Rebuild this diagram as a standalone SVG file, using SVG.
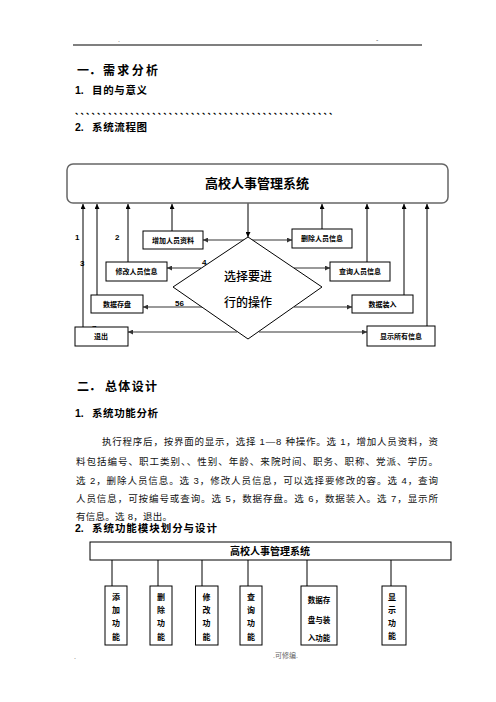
<svg xmlns="http://www.w3.org/2000/svg" width="496" height="702" viewBox="0 0 496 702">
<style>
text{font-family:"Liberation Sans","Noto Sans CJK SC",sans-serif;fill:#000}
.h1{font-size:12px;font-weight:bold}
.h2{font-size:10.5px;font-weight:bold}
.p{font-size:9.5px;fill:#111}
.lbl{font-size:7px;font-weight:bold;text-anchor:middle}
.num{font-size:8px;font-weight:bold}
.box{fill:#fff;stroke:#000;stroke-width:1}
.vl{stroke:#000;stroke-width:1;fill:none}
.hl{stroke:#777;stroke-width:1.6;fill:none}
.mod{font-size:8px;font-weight:bold;text-anchor:middle}
.small{font-size:7px;fill:#666}
</style>
<defs>
<marker id="ah" viewBox="0 0 6 6" refX="6" refY="3" markerWidth="5" markerHeight="5" markerUnits="userSpaceOnUse" orient="auto">
<path d="M0,0 L6,3 L0,6 Z" fill="#000"/>
</marker>
<marker id="ahg" viewBox="0 0 6 6" refX="6" refY="3" markerWidth="5" markerHeight="5" markerUnits="userSpaceOnUse" orient="auto">
<path d="M0,0 L6,3 L0,6 Z" fill="#333"/>
</marker>
</defs>
<rect width="496" height="702" fill="#fff"/>

<!-- page header -->
<text x="118" y="42" class="small">.</text>
<text x="376" y="42" class="small">-</text>
<line x1="73" y1="45" x2="422" y2="45" stroke="#000" stroke-width="1.2"/>

<text x="77" y="75" class="h1">一．</text>
<text x="103" y="75" class="h1" textLength="55" lengthAdjust="spacing">需求分析</text>
<text x="75" y="94" class="h2">1.</text>
<text x="92" y="94" class="h2" textLength="55" lengthAdjust="spacing">目的与意义</text>
<text x="75" y="114" style="font-size:8px;font-weight:bold;fill:#000" textLength="262" lengthAdjust="spacing">、、、、、、、、、、、、、、、、、、、、、、、、、、、、、、、、、、、、、、、、、、、、、、、</text>
<text x="75" y="131" class="h2">2.</text>
<text x="92" y="131" class="h2" textLength="55" lengthAdjust="spacing">系统流程图</text>

<!-- flowchart -->
<g id="connectors">
<line class="vl" x1="83" y1="327" x2="83" y2="204" marker-end="url(#ah)"/>
<line class="vl" x1="97" y1="295" x2="97" y2="204" marker-end="url(#ah)"/>
<line class="vl" x1="128" y1="262" x2="128" y2="204" marker-end="url(#ah)"/>
<line class="vl" x1="172" y1="231" x2="172" y2="204" marker-end="url(#ah)"/>
<line class="vl" x1="248" y1="203" x2="248" y2="237" marker-end="url(#ah)"/>
<line class="vl" x1="322" y1="229" x2="322" y2="204" marker-end="url(#ah)"/>
<line class="vl" x1="367" y1="262" x2="367" y2="204" marker-end="url(#ah)"/>
<line class="vl" x1="404" y1="295" x2="404" y2="204" stroke="#666" marker-end="url(#ah)"/>
<line class="vl" x1="427" y1="326" x2="427" y2="204" marker-end="url(#ah)"/>
<line class="hl" x1="244" y1="240" x2="203" y2="240" marker-end="url(#ahg)"/>
<line class="hl" x1="252" y1="240" x2="292" y2="240" marker-end="url(#ahg)"/>
<line class="hl" x1="201" y1="268" x2="167" y2="268" marker-end="url(#ahg)"/>
<line class="hl" x1="294" y1="268" x2="330" y2="268" marker-end="url(#ahg)"/>
<line class="hl" x1="202" y1="307" x2="143" y2="307" marker-end="url(#ahg)"/>
<line class="hl" x1="294" y1="307" x2="352" y2="307" marker-end="url(#ahg)"/>
<line class="hl" x1="237" y1="332" x2="128" y2="332" marker-end="url(#ahg)"/>
<line class="hl" x1="259" y1="332" x2="367" y2="332" marker-end="url(#ahg)"/>
</g>

<g id="labels">
<text x="75" y="240" class="num">1</text>
<text x="115" y="240" class="num">2</text>
<text x="80" y="266" class="num">3</text>
<text x="202" y="265" class="num">4</text>
<text x="175" y="306" class="num">56</text>
<text x="92" y="331" class="num">7</text>
</g>

<g id="main">
<rect x="67" y="164" width="381" height="39" rx="6" fill="#fff" stroke="#666" stroke-width="1.5"/>
<text x="257" y="188" style="font-size:13px;font-weight:bold;text-anchor:middle">高校人事管理系统</text>
</g>

<g id="decision">
<polygon points="248,237 173,287 248,339 322,287" fill="#fff" stroke="#000" stroke-width="1"/>
<text x="248" y="281" style="font-size:12px;font-weight:500;text-anchor:middle">选择要进</text>
<text x="248" y="307" style="font-size:12px;font-weight:500;text-anchor:middle">行的操作</text>
</g>

<g id="n-add"><rect class="box" x="143" y="231" width="60" height="18"/><text class="lbl" x="173" y="242.5">增加人员资料</text></g>
<g id="n-modify"><rect class="box" x="106" y="262" width="61" height="19"/><text class="lbl" x="136.5" y="274">修改人员信息</text></g>
<g id="n-save"><rect class="box" x="91" y="295" width="52" height="18"/><text class="lbl" x="117" y="306.5">数据存盘</text></g>
<g id="n-exit"><rect class="box" x="75" y="327" width="53" height="19"/><text class="lbl" x="101" y="339">退出</text></g>
<g id="n-delete"><rect class="box" x="292" y="229" width="60" height="19"/><text class="lbl" x="322" y="241">删除人员信息</text></g>
<g id="n-query"><rect class="box" x="330" y="262" width="60" height="19"/><text class="lbl" x="360" y="274">查询人员信息</text></g>
<g id="n-load"><rect class="box" x="352" y="295" width="61" height="18"/><text class="lbl" x="382.5" y="306.5">数据装入</text></g>
<g id="n-show"><rect class="box" x="367" y="326" width="68" height="20"/><text class="lbl" x="401" y="338.5">显示所有信息</text></g>

<!-- section 2 -->
<text x="77" y="391" class="h1">二．</text>
<text x="105" y="391" class="h1" textLength="52" lengthAdjust="spacing">总体设计</text>
<text x="75" y="417" class="h2">1.</text>
<text x="92" y="417" class="h2" textLength="66" lengthAdjust="spacing">系统功能分析</text>

<text x="102" y="445" class="p" textLength="336" lengthAdjust="spacing">执行程序后，按界面的显示，选择 1—8 种操作。选 1，增加人员资料，资</text>
<text x="76" y="465" class="p" textLength="362" lengthAdjust="spacing">料包括编号、职工类别、、性别、年龄、来院时间、职务、职称、党派、学历。</text>
<text x="76" y="484" class="p" textLength="362" lengthAdjust="spacing">选 2，删除人员信息。选 3，修改人员信息，可以选择要修改的容。选 4，查询</text>
<text x="76" y="502" class="p" textLength="362" lengthAdjust="spacing">人员信息，可按编号或查询。选 5，数据存盘。选 6，数据装入。选 7，显示所</text>
<text x="76" y="520" class="p" textLength="96" lengthAdjust="spacing">有信息。选 8，退出。</text>

<text x="75" y="532" class="h2">2.</text>
<text x="92" y="532" class="h2" textLength="125" lengthAdjust="spacing">系统功能模块划分与设计</text>

<!-- module diagram -->
<g id="module-connectors">
<line class="vl" x1="112" y1="560" x2="112" y2="586"/>
<line class="vl" x1="158" y1="560" x2="158" y2="586"/>
<line class="vl" x1="202" y1="560" x2="202" y2="586"/>
<line class="vl" x1="248" y1="560" x2="248" y2="586"/>
<line class="vl" x1="307" y1="560" x2="307" y2="586"/>
<line class="vl" x1="391" y1="560" x2="391" y2="586"/>
</g>
<g id="m-root"><rect class="box" x="90" y="542" width="361" height="18"/><text x="270" y="555" style="font-size:10px;font-weight:bold;text-anchor:middle">高校人事管理系统</text></g>
<g id="m-add"><rect class="box" x="105" y="586" width="22" height="59"/>
<text class="mod" x="116" y="600">添</text><text class="mod" x="116" y="613">加</text><text class="mod" x="116" y="626">功</text><text class="mod" x="116" y="640">能</text></g>
<g id="m-del"><rect class="box" x="150" y="586" width="22" height="59"/>
<text class="mod" x="161" y="600">删</text><text class="mod" x="161" y="613">除</text><text class="mod" x="161" y="626">功</text><text class="mod" x="161" y="640">能</text></g>
<g id="m-mod"><rect class="box" x="195.5" y="586" width="22.5" height="59"/>
<text class="mod" x="206.5" y="600">修</text><text class="mod" x="206.5" y="613">改</text><text class="mod" x="206.5" y="626">功</text><text class="mod" x="206.5" y="640">能</text></g>
<g id="m-query"><rect class="box" x="240" y="586" width="22" height="59"/>
<text class="mod" x="251" y="600">查</text><text class="mod" x="251" y="613">询</text><text class="mod" x="251" y="626">功</text><text class="mod" x="251" y="640">能</text></g>
<g id="m-data"><rect class="box" x="301" y="586" width="36" height="59"/>
<text class="mod" x="319" y="603" style="font-size:7.5px">数据存</text><text class="mod" x="319" y="623" style="font-size:7.5px">盘与装</text><text class="mod" x="319" y="641" style="font-size:7.5px">入功能</text></g>
<g id="m-show"><rect class="box" x="382" y="586" width="24" height="59"/>
<text class="mod" x="392" y="600">显</text><text class="mod" x="392" y="613">示</text><text class="mod" x="392" y="626">功</text><text class="mod" x="392" y="639">能</text></g>

<!-- footer -->
<text x="74" y="659" class="small">.</text>
<text x="273" y="658" class="small">.可修编.</text>
</svg>
